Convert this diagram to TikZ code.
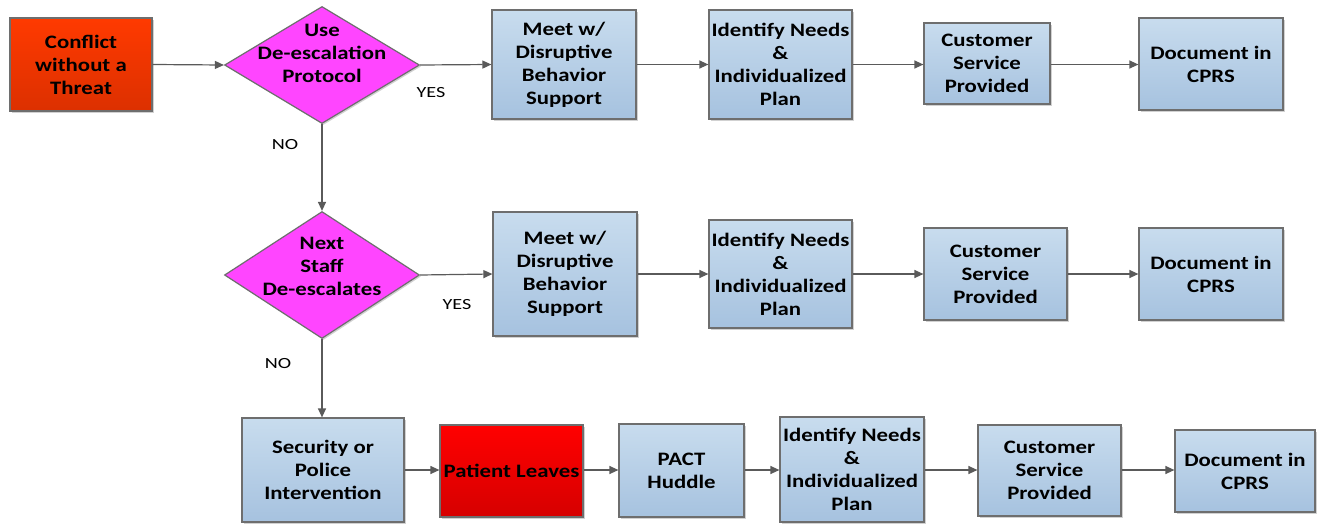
\documentclass[tikz,border=0pt]{standalone}
\usepackage{fontspec}
\setmainfont{Carlito}
\newfontfamily\wideb[FakeStretch=1.2]{Carlito}
\newfontfamily\widel[FakeStretch=1.3]{Carlito}
\usetikzlibrary{shapes.geometric,arrows.meta,shadows}
\definecolor{boxtop}{HTML}{C8DCEE}
\definecolor{boxbot}{HTML}{A6C2DF}
\definecolor{edgec}{HTML}{6E6E6E}
\definecolor{linec}{HTML}{5A5A5A}
\definecolor{magent}{HTML}{FF45FF}
\definecolor{conftop}{HTML}{FF3A00}
\definecolor{confbot}{HTML}{DC3000}
\definecolor{redtop}{HTML}{FF0000}
\definecolor{redbot}{HTML}{D60000}
\tikzset{
  base/.style={draw=edgec, line width=1.2pt, inner sep=0pt, align=center,
    font=\wideb\fontsize{19}{23}\selectfont\bfseries,
    drop shadow={shadow xshift=1.5pt, shadow yshift=-1.5pt, fill=black!30, opacity=0.6}},
  bluebox/.style 2 args={base, rectangle, top color=boxtop, bottom color=boxbot,
    minimum width=#1pt, minimum height=#2pt},
  confbox/.style 2 args={base, rectangle, top color=conftop, bottom color=confbot,
    minimum width=#1pt, minimum height=#2pt},
  redbox/.style 2 args={base, rectangle, top color=redtop, bottom color=redbot,
    minimum width=#1pt, minimum height=#2pt},
  dia/.style 2 args={base, diamond, fill=magent, minimum width=#1pt, minimum height=#2pt},
  dtxt/.style={inner sep=0pt, align=center, font=\wideb\fontsize{19}{23}\selectfont\bfseries},
  lbl/.style={inner sep=0pt, font=\widel\fontsize{15.5}{18}\selectfont},
  arr/.style={draw=linec, line width=1.2pt, -{Triangle[length=9pt,width=8pt]}},
}
\begin{document}
\begin{tikzpicture}[x=1pt,y=-1pt]
\useasboundingbox (0,0) rectangle (1330,525);
% Row 1
\node[confbox={142}{93}] (c) at (81,64.5) {Conflict\\without a\\Threat};
\node[dia={195}{117}] (d1) at (322,65) {};
\node[dtxt] (d1t) at (322,53) {Use\\De-escalation\\Protocol};
\node[bluebox={144}{109}] (m1) at (564,64.5) {Meet w/\\Disruptive\\Behavior\\Support};
\node[bluebox={143}{109}] (i1) at (780.5,64.5) {Identify Needs\\\&\\Individualized\\Plan};
\node[bluebox={126}{81}] (s1) at (987,63.5) {Customer\\Service\\Provided};
\node[bluebox={144}{92}] (p1) at (1211,64) {Document in\\CPRS};
% Row 2
\node[dia={195}{127}] (d2) at (322,275) {};
\node[dtxt] (d2t) at (322,266) {Next\\Staff\\De-escalates};
\node[bluebox={144}{124}] (m2) at (565,274) {Meet w/\\Disruptive\\Behavior\\Support};
\node[bluebox={143}{108}] (i2) at (780.5,274) {Identify Needs\\\&\\Individualized\\Plan};
\node[bluebox={143}{92}] (s2) at (995.5,274) {Customer\\Service\\Provided};
\node[bluebox={144}{92}] (p2) at (1211,274) {Document in\\CPRS};
% Row 3
\node[bluebox={162}{104}] (sec) at (323,470) {Security or\\Police\\Intervention};
\node[redbox={143}{92}] (pl) at (511.5,471) {Patient Leaves};
\node[bluebox={125}{93}] (pact) at (681.5,470.5) {PACT\\Huddle};
\node[bluebox={144}{105}] (i3) at (852,469.5) {Identify Needs\\\&\\Individualized\\Plan};
\node[bluebox={143}{91}] (s3) at (1049.5,470.5) {Customer\\Service\\Provided};
\node[bluebox={140}{82}] (p3) at (1245,471) {Document in\\CPRS};
% labels
\node[lbl] (y1) at (431,93) {YES};
\node[lbl] (n1) at (285,145) {NO};
\node[lbl] (y2) at (457,305) {YES};
\node[lbl] (n2) at (278,364) {NO};
% arrows row 1
\draw[arr] (c.east) -- (d1.west);
\draw[arr] (d1.east) -- (m1.west);
\draw[arr] (m1.east) -- (i1.west);
\draw[arr] (i1.east) -- (s1.west |- i1.east);
\draw[arr] (s1.east |- i1.east) -- (p1.west |- i1.east);
% vertical
\draw[arr] (d1.south) -- (d2.north);
\draw[arr] (d2.south) -- (d2.south |- sec.north);
% row 2
\draw[arr] (d2.east) -- (m2.west);
\draw[arr] (m2.east) -- (i2.west);
\draw[arr] (i2.east) -- (s2.west);
\draw[arr] (s2.east) -- (p2.west);
% row 3
\draw[arr] (sec.east) -- (pl.west |- sec.east);
\draw[arr] (pl.east |- sec.east) -- (pact.west |- sec.east);
\draw[arr] (pact.east |- sec.east) -- (i3.west |- sec.east);
\draw[arr] (i3.east |- sec.east) -- (s3.west |- sec.east);
\draw[arr] (s3.east |- sec.east) -- (p3.west |- sec.east);
\end{tikzpicture}
\end{document}
